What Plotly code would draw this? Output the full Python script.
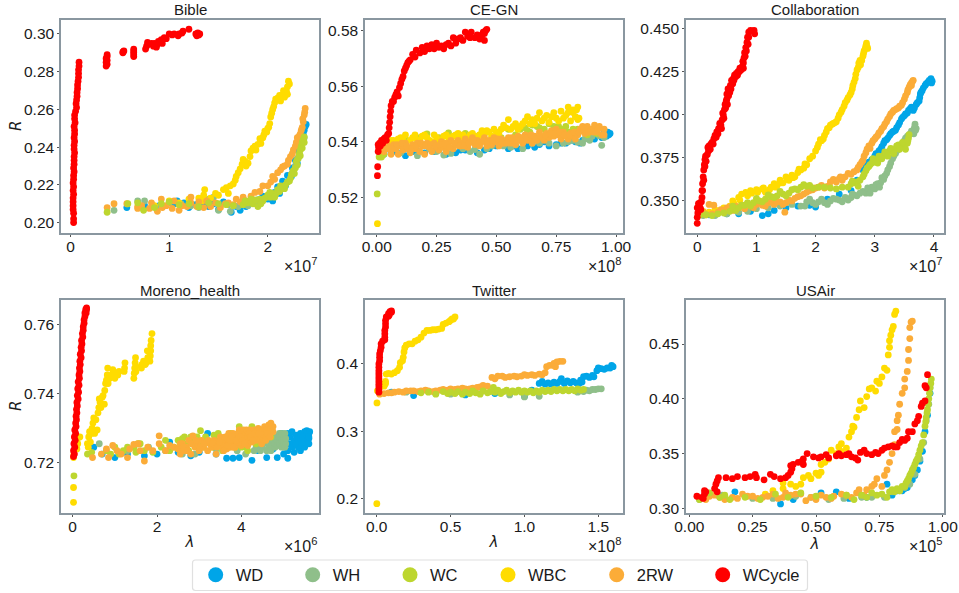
import plotly.graph_objects as go

SERIES = ["WD", "WH", "WC", "WBC", "2RW", "WCycle"]
COLORS = {"WD": "#00A5E8", "WH": "#8FBF8A", "WC": "#BDD62F", "WBC": "#FFDC00", "2RW": "#FBAC38", "WCycle": "#FF0000"}

# ---------- Bible (x in 1e7) ----------
BIBLE_WD = [(.57,.208),(.75,.209),(.9,.209),(1.05,.21),(1.08,.2115),(1.15,.2105),(1.2,.208),(1.27,.2095),(1.3,.2085),(1.35,.2105),(1.4,.2085),(1.45,.21),(1.5,.207),(1.55,.211),(1.63,.2055),(1.68,.2085),(1.72,.2065),(1.78,.2085),(1.85,.2115),(1.9,.212),(1.95,.214),(2.0,.2125),(2.03,.213),(2.07,.216),(2.1,.219),(2.15,.222),(2.2,.225),(2.25,.229),(2.28,.233),(2.31,.238),(2.33,.242),(2.35,.246),(2.37,.249),(2.38,.251),(2.39,.252),(2.37,.2505),(2.36,.247),(2.05,.2115),(2.12,.2155),(2.18,.2195),(2.24,.2245),(2.3,.2315)]
BIBLE_WH = [(.44,.2065),(.68,.2115),(.75,.2115),(.9,.2085),(1.0,.2105),(1.12,.21),(1.22,.209),(1.3,.208),(1.4,.2125),(1.45,.2135),(1.5,.2065),(1.6,.2095),(1.7,.2085),(1.62,.206),(1.8,.209),(1.9,.2105),(2.0,.2135),(2.05,.2145),(2.1,.2165),(2.15,.218),(2.2,.2215),(2.25,.2265),(2.28,.23),(2.3,.234),(2.33,.239),(2.35,.2435),(2.37,.245)]
BIBLE_WC = [(.37,.2055),(.58,.21),(.68,.2105),(.74,.2065),(.85,.208),(.92,.21),(1.0,.211),(1.1,.2095),(1.2,.21),(1.3,.2085),(1.4,.2105),(1.5,.21),(1.58,.2095),(1.65,.209),(1.75,.2095),(1.8,.2105),(1.85,.21),(1.9,.2085),(1.92,.2125),(1.95,.2115),(1.97,.213),(2.0,.2145),(2.03,.2135),(2.05,.2155),(2.08,.215),(2.1,.2175),(2.12,.2165),(2.15,.2185),(2.17,.218),(2.2,.2215),(2.22,.222),(2.24,.2255),(2.26,.2275),(2.28,.229),(2.29,.2325),(2.31,.234),(2.32,.2365),(2.33,.2385),(2.34,.2405),(2.35,.2425),(2.36,.244),(2.37,.2455),(1.77,.2115),(1.83,.2125),(1.88,.212),(1.93,.21),(2.02,.216),(2.07,.2135),(2.13,.2195),(2.18,.22),(2.23,.2235),(2.27,.226),(2.3,.2305),(2.33,.2355),(2.35,.2395),(2.37,.2425)]
BIBLE_WBC = [(.85,.209),(1.0,.2115),(1.1,.2105),(1.2,.2125),(1.3,.213),(1.33,.2115),(1.35,.2145),(1.36,.2175),(1.42,.213),(1.47,.2155),(1.5,.2145),(1.55,.2175),(1.58,.2185),(1.6,.2155),(1.62,.2195),(1.65,.2205),(1.67,.2225),(1.68,.2245),(1.7,.2265),(1.72,.2285),(1.74,.231),(1.77,.2325),(1.8,.2315),(1.82,.235),(1.83,.238),(1.87,.2405),(1.9,.2415),(1.92,.2445),(1.95,.245),(1.97,.2485),(2.0,.25),(2.02,.2525),(2.03,.256),(2.05,.26),(2.07,.2635),(2.1,.266),(2.13,.2645),(2.15,.268),(2.17,.2665),(2.2,.272),(2.21,.275),(2.22,.2735),(2.2,.268),(1.75,.2335),(1.78,.23),(1.85,.2395),(1.88,.2385),(1.93,.242),(1.96,.2465),(1.99,.248),(2.01,.2505),(2.04,.258),(2.06,.2615),(2.08,.2655),(2.12,.2675),(2.16,.27),(2.19,.2695)]
BIBLE_2RW = [(.37,.208),(.44,.21),(.57,.21),(.68,.2075),(.68,.2085),(.72,.209),(.8,.2075),(.82,.2105),(.88,.206),(.93,.208),(.92,.2125),(.97,.209),(1.03,.2075),(1.05,.2115),(1.1,.2065),(1.13,.209),(1.18,.2085),(1.22,.2105),(1.22,.2135),(1.28,.2085),(1.3,.211),(1.35,.208),(1.38,.2115),(1.42,.2085),(1.47,.2105),(1.52,.208),(1.57,.21),(1.6,.2105),(1.65,.2095),(1.68,.2125),(1.72,.211),(1.75,.2135),(1.78,.2115),(1.83,.214),(1.87,.216),(1.92,.2165),(1.95,.2195),(2.0,.2195),(2.03,.2215),(2.07,.223),(2.1,.2265),(2.13,.228),(2.17,.23),(2.2,.231),(2.23,.235),(2.26,.2385),(2.29,.2425),(2.3,.245),(2.33,.247),(2.35,.2505),(2.36,.2535),(2.37,.257),(2.38,.2605),(2.05,.2245),(2.15,.2295),(2.21,.233),(2.25,.2365),(2.28,.2405),(2.32,.246),(2.34,.249),(2.355,.255),(2.375,.2585)]
BIBLE_WCYCLE = [(.03,.2),(.03,.202),(.03,.205),(.025,.207),(.025,.209),(.025,.211),(.025,.213),(.03,.215),(.025,.217),(.03,.219),(.025,.221),(.03,.223),(.03,.225),(.035,.227),(.03,.229),(.035,.231),(.035,.233),(.035,.235),(.04,.237),(.035,.239),(.035,.241),(.04,.243),(.035,.245),(.04,.247),(.04,.249),(.035,.251),(.045,.253),(.04,.255),(.04,.257),(.05,.259),(.06,.261),(.055,.263),(.06,.265),(.065,.267),(.065,.269),(.07,.271),(.07,.273),(.075,.275),(.08,.277),(.08,.279),(.08,.281),(.085,.283),(.085,.285),(.36,.283),(.37,.284),(.36,.285),(.37,.286),(.36,.287),(.37,.288),(.37,.289),(.53,.29),(.54,.291),(.53,.2905),(.64,.288),(.64,.289),(.64,.29),(.64,.291),(.64,.292),(.76,.292),(.77,.2935),(.78,.2955),(.79,.2945),(.82,.295),(.84,.2935),(.85,.295),(.87,.293),(.88,.2945),(.89,.296),(.9,.2955),(.92,.297),(.93,.295),(.95,.298),(.97,.2975),(1.0,.3),(1.03,.2995),(1.05,.3),(1.09,.299),(1.1,.3),(1.13,.3005),(1.14,.3015),(1.2,.3025),(1.27,.3),(1.28,.299),(1.29,.3005),(1.3,.2995),(1.31,.3)]

# ---------- CE-GN (x in 1e8) ----------
CE_WD = [(.03,.5355),(.06,.536),(.12,.535),(.15,.5365),(.2,.536),(.24,.5365),(.29,.5355),(.33,.536),(.37,.537),(.42,.536),(.45,.537),(.5,.5385),(.55,.5375),(.59,.5375),(.63,.5385),(.66,.538),(.7,.54),(.75,.539),(.79,.5395),(.83,.54),(.86,.5405),(.89,.5415),(.92,.5425),(.94,.5415),(.95,.543),(.96,.542),(.965,.5435),(.97,.5425),(.975,.543),(.96,.5435),(.08,.5365),(.17,.5365),(.26,.537),(.35,.537),(.47,.5375),(.57,.5385),(.68,.539),(.72,.5385),(.77,.5395),(.81,.5405),(.85,.5395),(.91,.541)]
CE_WH = [(.02,.535),(.1,.536),(.17,.535),(.22,.5375),(.28,.5352),(.31,.5358),(.36,.5375),(.41,.5372),(.43,.5355),(.48,.5385),(.53,.5385),(.58,.5388),(.61,.5375),(.65,.5395),(.72,.5395),(.75,.5385),(.8,.54),(.84,.5398),(.87,.541),(.9,.542),(.94,.5387),(.93,.5422),(.95,.5415),(.25,.5365),(.39,.5365),(.46,.5375),(.56,.538),(.68,.5395),(.78,.5395),(.82,.5405),(.86,.5395),(.89,.5405)]
CE_WC = [(.002,.5212),(.01,.5345),(.02,.5345),(.03,.5355),(.07,.54),(.12,.541),(.18,.5415),(.21,.5428),(.26,.5415),(.3,.5432),(.35,.542),(.37,.543),(.43,.5425),(.46,.5435),(.52,.5415),(.55,.5445),(.58,.5425),(.62,.545),(.64,.5435),(.67,.5455),(.7,.5445),(.74,.5455),(.77,.5445),(.8,.5435),(.84,.5445),(.88,.5425),(.92,.543),(.6,.5445),(.63,.544),(.65,.546),(.68,.545),(.72,.5465),(.76,.5455),(.79,.5455),(.82,.5445),(.86,.544)]
CE_WBC = [(.003,.5105),(.03,.54),(.05,.5395),(.07,.5405),(.09,.541),(.11,.5405),(.12,.5425),(.15,.5415),(.17,.5405),(.19,.542),(.21,.5415),(.23,.54),(.25,.5415),(.27,.5405),(.29,.5425),(.31,.541),(.33,.5425),(.35,.5415),(.37,.5405),(.39,.5425),(.41,.542),(.43,.5425),(.45,.543),(.46,.544),(.48,.542),(.5,.5435),(.52,.5445),(.54,.545),(.55,.548),(.57,.5455),(.59,.5445),(.61,.5465),(.63,.549),(.65,.548),(.66,.5465),(.68,.5505),(.69,.5475),(.7,.5485),(.72,.547),(.73,.549),(.75,.5485),(.76,.5475),(.77,.551),(.79,.5495),(.8,.5525),(.81,.5475),(.82,.5505),(.83,.549),(.84,.5525),(.84,.548),(.845,.5485),(.835,.5515),(.04,.541),(.06,.5405),(.08,.5395),(.1,.5415),(.14,.5405),(.16,.5425),(.18,.5405),(.2,.5425),(.22,.5405),(.24,.5425),(.26,.5405),(.28,.542),(.3,.5415),(.32,.542),(.34,.543),(.36,.5425),(.38,.5415),(.4,.543),(.42,.5415),(.44,.544),(.47,.5435),(.49,.5445),(.51,.543),(.53,.546),(.56,.5445),(.58,.5465),(.6,.5455),(.62,.5475),(.64,.5465),(.67,.5485),(.71,.5495),(.74,.5505),(.78,.5485),(.8,.5505),(.82,.5515)]
CE_2RW = [(.02,.5385),(.03,.5365),(.04,.5395),(.05,.5375),(.06,.5355),(.07,.539),(.08,.5375),(.09,.5355),(.1,.5385),(.11,.537),(.12,.5395),(.13,.5375),(.14,.536),(.15,.539),(.16,.5375),(.17,.5395),(.18,.5365),(.19,.5385),(.2,.5355),(.21,.5395),(.22,.538),(.23,.5365),(.24,.5395),(.25,.538),(.26,.537),(.27,.54),(.28,.538),(.29,.5365),(.3,.5395),(.31,.5405),(.32,.5375),(.33,.539),(.34,.5405),(.35,.5385),(.36,.5395),(.37,.541),(.38,.538),(.39,.54),(.4,.5415),(.41,.539),(.42,.5405),(.43,.5385),(.44,.54),(.45,.5415),(.46,.5385),(.47,.5405),(.48,.539),(.49,.5415),(.5,.54),(.51,.5385),(.52,.541),(.53,.5395),(.54,.5405),(.55,.5415),(.56,.5395),(.57,.5405),(.58,.539),(.59,.542),(.6,.5405),(.61,.5395),(.62,.5425),(.63,.5405),(.64,.541),(.65,.5395),(.66,.542),(.67,.5405),(.68,.5435),(.69,.5415),(.7,.5405),(.71,.543),(.72,.5415),(.73,.544),(.74,.542),(.75,.5445),(.76,.5425),(.77,.541),(.78,.5435),(.79,.542),(.8,.541),(.81,.543),(.82,.542),(.83,.541),(.84,.5425),(.85,.5445),(.86,.5455),(.87,.543),(.88,.5455),(.89,.5435),(.9,.5445),(.91,.546),(.92,.5435),(.93,.5455),(.94,.5425),(.95,.5445),(.95,.5425),(.025,.5375),(.045,.5385),(.065,.5375),(.085,.539),(.105,.5395),(.125,.5385),(.145,.5375),(.165,.5385),(.185,.5395),(.205,.5385),(.225,.539),(.245,.5385),(.265,.539),(.285,.5395),(.305,.538),(.325,.5395),(.345,.5385),(.365,.5385),(.385,.5395),(.405,.5405),(.425,.5395),(.445,.5405),(.465,.54),(.485,.5405),(.505,.541),(.525,.5395),(.545,.5395),(.565,.5415),(.585,.5405),(.605,.5415),(.625,.5415),(.645,.5425),(.665,.541),(.685,.542),(.705,.5425),(.725,.543),(.745,.543),(.765,.5435),(.785,.5425),(.805,.5425),(.825,.5435),(.845,.5435),(.865,.5445),(.885,.5435),(.905,.5435),(.925,.5445)]
CE_WCYCLE = [(.003,.5278),(.004,.531),(.006,.5365),(.006,.539),(.008,.538),(.012,.5395),(.015,.5385),(.02,.5405),(.025,.5395),(.03,.541),(.035,.5415),(.04,.5405),(.045,.5425),(.05,.543),(.052,.545),(.054,.547),(.056,.549),(.058,.551),(.06,.553),(.065,.5545),(.07,.5545),(.075,.556),(.08,.557),(.085,.558),(.09,.5565),(.095,.5595),(.1,.561),(.105,.5625),(.11,.5635),(.115,.5655),(.12,.5665),(.125,.5675),(.13,.5685),(.135,.569),(.14,.5695),(.15,.5715),(.16,.5705),(.165,.573),(.18,.572),(.19,.574),(.2,.5725),(.21,.5745),(.22,.5735),(.23,.575),(.24,.5735),(.25,.5755),(.26,.574),(.27,.5745),(.28,.5735),(.29,.575),(.3,.5755),(.31,.5745),(.32,.5775),(.33,.5755),(.34,.577),(.35,.5775),(.36,.5765),(.37,.5795),(.38,.578),(.39,.5775),(.395,.5795),(.41,.5775),(.42,.5785),(.43,.577),(.44,.5785),(.45,.5765),(.445,.5795),(.455,.58),(.46,.5805),(.45,.579)]

# ---------- Collaboration (x in 1e7) ----------
CO_WD = [(.2,.342),(.5,.3425),(.7,.3425),(.9,.344),(1.1,.3415),(1.2,.3425),(1.3,.3445),(1.5,.346),(1.7,.347),(1.9,.3475),(2.0,.3465),(2.2,.351),(2.4,.354),(2.6,.356),(2.7,.362),(2.8,.368),(2.85,.371),(2.9,.3725),(3.0,.376),(3.05,.3775),(3.1,.38),(3.15,.3835),(3.2,.3855),(3.25,.388),(3.3,.39),(3.35,.391),(3.4,.394),(3.45,.3975),(3.5,.3995),(3.55,.401),(3.6,.4035),(3.65,.4025),(3.7,.406),(3.75,.408),(3.77,.412),(3.8,.414),(3.85,.417),(3.9,.419),(3.95,.421),(3.97,.4195),(2.95,.374),(3.02,.3775),(3.07,.379),(3.12,.3815),(3.17,.385),(3.22,.3865),(3.27,.389),(3.32,.3905),(3.37,.3925),(3.42,.3955),(3.47,.3985),(3.52,.4005),(3.57,.4025),(3.62,.4045),(3.67,.404),(3.72,.407),(3.76,.41),(3.78,.413),(3.82,.4155),(3.87,.418),(3.92,.42),(3.96,.4185)]
CO_WH = [(.1,.3415),(.3,.3415),(.5,.3425),(.7,.3435),(.85,.344),(1.0,.3455),(1.2,.346),(1.4,.347),(1.6,.348),(1.75,.347),(1.85,.3495),(1.95,.349),(2.05,.3495),(2.15,.349),(2.25,.35),(2.35,.351),(2.45,.3495),(2.5,.352),(2.6,.352),(2.65,.3535),(2.7,.353),(2.8,.3555),(2.85,.3545),(2.9,.356),(2.95,.358),(3.0,.357),(3.05,.36),(3.1,.3605),(3.15,.3625),(3.2,.366),(3.25,.37),(3.3,.3745),(3.35,.3775),(3.4,.38),(3.45,.382),(3.5,.385),(3.55,.3875),(3.6,.389),(3.65,.391),(3.68,.3945),(3.7,.392),(1.82,.347),(1.9,.351),(2.0,.348),(2.1,.351),(2.2,.348),(2.3,.3515),(2.4,.3505),(2.55,.3505),(2.62,.354),(2.75,.3545),(2.88,.3575),(2.92,.3545),(3.02,.3595),(3.08,.358),(3.12,.3635),(3.17,.3645),(3.22,.368),(3.27,.372),(3.32,.376),(3.37,.379),(3.42,.381),(3.47,.3835),(3.52,.3865),(3.57,.388),(3.62,.3905),(3.67,.3925),(3.66,.389),(3.69,.391)]
CO_WC = [(.05,.342),(.15,.342),(.25,.3415),(.35,.3425),(.45,.343),(.55,.344),(.65,.3445),(.75,.3475),(.85,.349),(.95,.349),(1.05,.35),(1.15,.351),(1.25,.3525),(1.35,.353),(1.45,.354),(1.55,.3545),(1.65,.357),(1.75,.358),(1.85,.3585),(1.95,.3575),(2.05,.358),(2.15,.358),(2.25,.3575),(2.35,.357),(2.45,.358),(2.55,.358),(2.6,.36),(2.65,.3605),(2.7,.361),(2.75,.362),(2.8,.364),(2.85,.3675),(2.9,.37),(2.95,.372),(3.0,.3735),(3.05,.372),(3.1,.375),(3.15,.3765),(3.2,.3775),(3.25,.379),(3.3,.3795),(3.35,.38),(3.4,.3825),(3.45,.382),(3.5,.3815),(3.55,.3835),(3.57,.3865),(3.58,.3885),(2.62,.3615),(2.72,.3585),(2.82,.3655),(2.87,.369),(2.92,.371),(2.97,.3745),(3.02,.3725),(3.07,.376),(3.12,.3745),(3.17,.3785),(3.22,.376),(3.27,.3805),(3.32,.3775),(3.37,.382),(3.42,.38),(3.47,.384),(3.52,.38),(3.56,.385),(.6,.347),(.7,.346),(.8,.3475),(.9,.347),(1.0,.3515),(1.1,.3495),(1.2,.3535),(1.3,.352),(1.4,.3555),(1.5,.353),(1.6,.3565),(1.7,.3565),(1.8,.3595),(1.9,.359)]
CO_WBC = [(.1,.344),(.2,.3435),(.3,.345),(.35,.343),(.45,.346),(.55,.347),(.6,.35),(.7,.352),(.75,.354),(.85,.353),(.9,.356),(1.0,.3565),(1.1,.357),(1.15,.355),(1.25,.358),(1.3,.36),(1.35,.359),(1.4,.362),(1.45,.3605),(1.5,.364),(1.55,.362),(1.6,.365),(1.65,.364),(1.7,.3665),(1.75,.368),(1.8,.369),(1.85,.371),(1.9,.3745),(1.95,.376),(2.0,.379),(2.05,.383),(2.1,.385),(2.15,.388),(2.2,.392),(2.25,.394),(2.3,.395),(2.35,.396),(2.4,.4),(2.45,.403),(2.5,.407),(2.55,.41),(2.6,.413),(2.63,.417),(2.67,.421),(2.7,.426),(2.73,.43),(2.76,.429),(2.8,.434),(2.82,.437),(2.85,.44),(2.87,.4395),(2.03,.381),(2.08,.3855),(2.13,.386),(2.18,.39),(2.23,.3925),(2.28,.3945),(2.33,.3955),(2.38,.398),(2.43,.4015),(2.48,.405),(2.53,.4085),(2.58,.4115),(2.62,.415),(2.65,.419),(2.68,.4235),(2.72,.4275),(2.75,.4315),(2.78,.4315),(2.81,.4355),(2.84,.4385),(2.86,.4415),(2.88,.4385),(1.82,.3715),(1.72,.3685),(1.62,.3635),(1.52,.3625),(1.42,.3605),(1.32,.358),(1.22,.3565),(1.12,.3575),(1.02,.355),(.92,.3545),(.82,.355),(.72,.3505),(.62,.3485)]
CO_2RW = [(.1,.3435),(.15,.342),(.2,.348),(.28,.3475),(.25,.3425),(.35,.3435),(.45,.3445),(.5,.346),(.55,.3465),(.6,.3445),(.7,.346),(.8,.3455),(.9,.347),(1.0,.348),(1.1,.3475),(1.2,.349),(1.3,.348),(1.4,.3495),(1.48,.3435),(1.5,.349),(1.6,.35),(1.7,.3525),(1.8,.354),(1.9,.356),(2.0,.3575),(2.1,.359),(2.2,.3585),(2.25,.361),(2.3,.3625),(2.4,.363),(2.45,.362),(2.5,.364),(2.55,.366),(2.6,.3655),(2.65,.367),(2.7,.368),(2.75,.371),(2.8,.3735),(2.85,.378),(2.9,.382),(2.95,.3835),(3.0,.386),(3.05,.388),(3.1,.3905),(3.15,.393),(3.2,.396),(3.25,.399),(3.3,.4015),(3.35,.403),(3.4,.404),(3.45,.4055),(3.5,.409),(3.55,.413),(3.58,.416),(3.62,.4185),(3.65,.42),(3.62,.417),(2.72,.3695),(2.78,.3725),(2.82,.376),(2.87,.38),(2.92,.3805),(2.97,.385),(3.02,.387),(3.07,.3895),(3.12,.392),(3.17,.3945),(3.22,.3975),(3.27,.4005),(3.32,.4025),(3.37,.4035),(3.42,.405),(3.47,.407),(3.52,.411),(3.56,.4145),(3.6,.4175),(3.64,.4195),(.4,.345),(.65,.347),(.75,.3475),(.85,.3485),(.95,.346),(1.05,.349),(1.15,.347),(1.25,.35),(1.35,.3495),(1.45,.348),(1.55,.3505),(1.65,.3515),(1.75,.353),(1.85,.355),(1.95,.3565),(2.05,.358),(2.15,.3575),(2.35,.361),(2.42,.364)]
CO_WCYCLE = [(0,.337),(0,.3405),(.01,.343),(0,.346),(.02,.3485),(.05,.349),(.05,.346),(.07,.3495),(.06,.345),(.08,.352),(.08,.356),(.09,.36),(.1,.364),(.11,.368),(.12,.371),(.13,.374),(.14,.376),(.17,.377),(.19,.379),(.2,.382),(.23,.383),(.25,.384),(.28,.386),(.3,.388),(.33,.39),(.36,.392),(.4,.394),(.42,.397),(.44,.4),(.46,.403),(.47,.406),(.5,.409),(.5,.412),(.52,.415),(.56,.417),(.58,.42),(.61,.421),(.63,.423),(.66,.424),(.69,.425),(.72,.427),(.76,.428),(.78,.43),(.79,.433),(.8,.436),(.82,.439),(.84,.442),(.85,.445),(.87,.448),(.9,.449),(.93,.4485),(.97,.447),(.96,.449),(.09,.356),(.11,.362),(.13,.37),(.15,.373),(.18,.381),(.22,.38),(.27,.383),(.32,.387),(.35,.389),(.38,.395),(.41,.392),(.43,.401),(.45,.398),(.48,.404),(.49,.408),(.51,.406),(.53,.411),(.55,.413),(.57,.415),(.6,.418),(.62,.42),(.65,.422),(.68,.423),(.71,.425),(.74,.426),(.77,.431),(.78,.427),(.81,.434),(.83,.437),(.86,.441),(.87,.445)]

# ---------- Moreno_health (x in 1e6) ----------
MO_WD = [(.5,.7245),(.7,.7225),(1.0,.7215),(1.3,.7225),(1.7,.722),(2.0,.7225),(2.3,.726),(2.5,.723),(2.8,.722),(3.0,.723),(3.2,.7285),(3.4,.7225),(3.65,.7213),(3.8,.7213),(3.95,.7215),(4.25,.7207),(4.4,.7235),(4.6,.7215),(4.75,.724),(4.85,.7215),(5.0,.7225),(5.1,.7213),(4.9,.7265),(4.95,.7285),(5.0,.7245),(5.05,.727),(5.1,.7235),(5.1,.7285),(5.15,.7255),(5.15,.7275),(5.2,.7245),(5.2,.729),(5.25,.7265),(5.25,.723),(5.3,.7255),(5.3,.728),(5.35,.7245),(5.35,.727),(5.4,.726),(5.4,.7285),(5.4,.7235),(5.45,.7275),(5.45,.725),(5.5,.7265),(5.5,.729),(5.5,.7245),(5.55,.7255),(5.55,.728),(5.55,.7293),(5.6,.727),(5.6,.7285),(5.6,.7255),(5.62,.729),(5.6,.7275)]
MO_WH = [(.63,.7255),(1.3,.7235),(1.8,.7245),(2.2,.7235),(2.6,.7225),(2.9,.7225),(3.4,.724),(3.9,.7235),(4.1,.7225),(4.3,.7235),(4.35,.7245),(4.4,.7255),(4.45,.7235),(4.5,.7245),(4.55,.7258),(4.6,.7235),(4.65,.7265),(4.65,.7245),(4.7,.7255),(4.7,.7235),(4.75,.7275),(4.75,.7265),(4.8,.7245),(4.8,.7255),(4.85,.7275),(4.85,.7265),(4.85,.725),(4.9,.7285),(4.9,.7255),(4.9,.7275),(4.95,.7265),(4.95,.7245),(4.95,.7285),(5.0,.7275),(5.0,.7255),(5.0,.7265),(5.03,.7245),(5.03,.7285),(5.05,.7255),(5.05,.727)]
MO_WC = [(.03,.7162),(.35,.7225),(.45,.723),(.8,.7235),(1.0,.7245),(1.1,.7225),(1.3,.7245),(1.5,.723),(1.55,.7255),(1.7,.7235),(1.9,.723),(2.1,.7245),(2.2,.7265),(2.3,.7235),(2.5,.7265),(2.55,.7245),(2.65,.7275),(2.75,.7235),(2.85,.7265),(2.95,.7275),(3.03,.7293),(3.1,.7245),(3.2,.7265),(3.3,.7245),(3.4,.7265),(3.45,.7285),(3.55,.7235),(3.65,.7265),(3.75,.7285),(3.85,.7245),(3.95,.7305),(4.05,.726),(4.1,.7245),(4.2,.728),(4.25,.7305),(4.35,.7255),(4.45,.7295),(4.55,.7265),(4.65,.7305),(4.7,.7275),(.9,.7225),(1.2,.7235),(1.45,.7245),(1.6,.7255),(2.4,.7245),(2.6,.727),(2.7,.7255),(2.8,.7275),(3.0,.7255),(3.15,.7275),(3.35,.728),(3.5,.7255),(3.7,.7245),(4.0,.7245),(4.15,.7235)]
MO_WBC = [(.02,.7085),(.02,.7128),(.02,.7215),(.03,.7225),(.1,.7265),(.12,.7255),(.17,.7275),(.1,.724),(.35,.7255),(.37,.7245),(.38,.7275),(.4,.729),(.42,.726),(.44,.7285),(.46,.73),(.48,.7315),(.5,.733),(.52,.7285),(.55,.7325),(.58,.7295),(.6,.7345),(.62,.736),(.63,.7385),(.65,.7375),(.67,.736),(.7,.739),(.72,.7395),(.75,.737),(.76,.741),(.78,.743),(.8,.744),(.82,.7455),(.84,.743),(.83,.7475),(.88,.7445),(.92,.7455),(.95,.747),(1.0,.7445),(1.03,.746),(1.07,.7455),(1.1,.7465),(1.22,.7465),(1.23,.7475),(1.24,.749),(1.45,.7445),(1.46,.746),(1.47,.7475),(1.48,.749),(1.49,.7505),(1.5,.7465),(1.5,.748),(1.63,.7475),(1.64,.7485),(1.68,.7495),(1.72,.7485),(1.74,.749),(1.76,.7495),(1.78,.7505),(1.77,.7525),(1.8,.7505),(1.84,.751),(1.85,.7525),(1.85,.754),(1.86,.7555),(1.88,.7575),(1.83,.7495)]
MO_2RW = [(.47,.7215),(.68,.7225),(.8,.724),(.85,.7215),(.95,.725),(1.05,.7235),(1.15,.7225),(1.3,.7215),(1.35,.724),(1.45,.7253),(1.55,.7255),(1.6,.7235),(1.7,.7205),(1.78,.7245),(1.9,.7235),(2.05,.7278),(2.05,.7255),(2.2,.7235),(2.3,.725),(2.4,.7245),(2.5,.724),(2.55,.7225),(2.6,.7255),(2.65,.7235),(2.7,.7245),(2.75,.7265),(2.8,.7225),(2.85,.7278),(2.9,.7245),(2.95,.7255),(3.0,.7235),(3.05,.7265),(3.1,.7245),(3.2,.7235),(3.25,.7255),(3.3,.7245),(3.35,.7265),(3.4,.7225),(3.45,.725),(3.5,.7275),(3.55,.7245),(3.55,.726),(3.6,.7265),(3.6,.725),(3.65,.7275),(3.65,.724),(3.7,.726),(3.7,.7285),(3.75,.7245),(3.75,.727),(3.8,.7255),(3.8,.7285),(3.85,.7265),(3.85,.7245),(3.9,.7275),(3.9,.7255),(3.95,.7295),(3.95,.7265),(4.0,.7285),(4.0,.725),(4.05,.7275),(4.05,.7295),(4.1,.7265),(4.1,.7285),(4.15,.725),(4.15,.7275),(4.2,.7295),(4.2,.7265),(4.25,.7285),(4.25,.726),(4.3,.7275),(4.3,.7295),(4.35,.7265),(4.35,.7285),(4.4,.7275),(4.4,.73),(4.45,.7265),(4.45,.7285),(4.5,.7275),(4.5,.7295),(4.55,.7285),(4.55,.7305),(4.6,.7275),(4.6,.7295),(4.65,.731),(4.65,.7285),(4.7,.73),(4.7,.7315),(4.75,.729),(4.75,.7305),(2.55,.7255),(2.62,.7245),(2.72,.7235),(2.82,.7255),(2.92,.7265),(3.02,.7245),(3.12,.7255),(3.22,.7265),(3.32,.7255),(3.42,.7245),(3.48,.726),(3.58,.7235),(3.62,.7275),(3.68,.725),(3.72,.7265),(3.78,.7275),(3.82,.7245),(3.88,.7265),(3.92,.7285),(3.98,.7275),(4.02,.7265),(4.08,.7255),(4.12,.7295),(4.18,.7285),(4.22,.7275),(4.28,.7265),(4.32,.7285),(4.38,.7295),(4.42,.7285),(4.48,.7255),(4.52,.7265),(4.58,.7265),(4.62,.7285),(4.68,.7275)]
MO_WCYCLE = [(.02,.7218),(.04,.7225),(.02,.7235),(.05,.7245),(.03,.7255),(.06,.7265),(.04,.7275),(.07,.7285),(.05,.7295),(.08,.7305),(.07,.7315),(.09,.7325),(.08,.7335),(.10,.7345),(.09,.7355),(.11,.7365),(.10,.7375),(.13,.7385),(.11,.7395),(.14,.7405),(.12,.7415),(.15,.7425),(.13,.7435),(.16,.7445),(.15,.7455),(.17,.7465),(.16,.7475),(.18,.7485),(.17,.7495),(.20,.7505),(.18,.7515),(.21,.7525),(.20,.7535),(.22,.7545),(.21,.7555),(.24,.7565),(.23,.7575),(.25,.7585),(.25,.7595),(.27,.7605),(.27,.7615),(.29,.7625),(.29,.7635),(.31,.7645),(.33,.7645),(.32,.7635),(.33,.765)]

# ---------- Twitter (x in 1e8) ----------
TW_WD = [(.1,.358),(.25,.353),(.4,.356),(.6,.354),(.8,.356),(1.0,.352),(1.05,.361),(1.1,.371),(1.12,.374),(1.14,.37),(1.16,.372),(1.18,.37),(1.2,.373),(1.22,.371),(1.24,.374),(1.25,.378),(1.27,.371),(1.29,.375),(1.31,.372),(1.33,.374),(1.35,.372),(1.37,.371),(1.39,.373),(1.38,.376),(1.4,.381),(1.42,.382),(1.44,.38),(1.46,.383),(1.47,.381),(1.49,.39),(1.5,.394),(1.52,.393),(1.54,.392),(1.56,.394),(1.58,.394),(1.59,.398),(1.6,.396)]
TW_WH = [(.2,.358),(.5,.355),(.7,.356),(.9,.354),(1.0,.351),(1.1,.352),(1.36,.358),(1.38,.36),(1.4,.359),(1.42,.361),(1.44,.36),(1.46,.362),(1.48,.362),(1.5,.363),(1.52,.363)]
TW_WC = [(.3,.357),(.35,.358),(.4,.355),(.45,.359),(.48,.356),(.5,.358),(.53,.356),(.55,.359),(.58,.355),(.6,.358),(.63,.356),(.65,.36),(.67,.357),(.7,.355),(.72,.36),(.75,.357),(.77,.359),(.79,.365),(.8,.358),(.82,.361),(.84,.356),(.86,.359),(.88,.361),(.9,.357),(.92,.36),(.94,.358),(.96,.361),(.98,.358),(1.0,.36),(1.02,.358),(1.04,.36),(1.06,.357),(1.08,.36),(1.1,.358),(1.12,.361),(1.14,.359),(1.16,.361),(1.18,.359),(1.2,.362),(1.22,.36),(1.24,.362),(1.26,.36),(1.28,.362),(1.3,.36),(1.32,.362),(1.34,.36),(1.36,.363),(1.38,.361),(1.4,.362)]
TW_WBC = [(.001,.192),(.002,.342),(.005,.36),(.05,.367),(.055,.37),(.06,.374),(.06,.371),(.065,.385),(.08,.386),(.1,.385),(.12,.387),(.14,.39),(.155,.395),(.16,.402),(.175,.405),(.18,.41),(.185,.418),(.19,.424),(.2,.428),(.22,.43),(.24,.43),(.26,.434),(.28,.436),(.3,.44),(.32,.446),(.34,.45),(.36,.45),(.38,.451),(.4,.451),(.42,.452),(.44,.453),(.45,.459),(.47,.461),(.49,.463),(.5,.465),(.51,.467),(.52,.467),(.53,.47)]
TW_2RW = [(.02,.355),(.05,.356),(.08,.357),(.1,.357),(.12,.358),(.15,.359),(.18,.358),(.2,.36),(.23,.36),(.25,.36),(.28,.359),(.3,.36),(.33,.361),(.35,.36),(.38,.359),(.4,.36),(.43,.361),(.45,.362),(.48,.361),(.5,.363),(.53,.362),(.55,.363),(.58,.364),(.6,.363),(.63,.363),(.65,.364),(.68,.365),(.7,.366),(.72,.368),(.75,.367),(.78,.38),(.8,.378),(.82,.382),(.85,.382),(.87,.38),(.9,.381),(.93,.382),(.95,.381),(.98,.382),(1.0,.384),(1.02,.383),(1.05,.384),(1.07,.383),(1.1,.385),(1.12,.384),(1.14,.387),(1.15,.396),(1.17,.398),(1.19,.398),(1.2,.401),(1.22,.403),(1.24,.404),(1.26,.404),(1.21,.396)]
TW_WCYCLE = [(.015,.358),(.015,.362),(.015,.366),(.015,.37),(.015,.374),(.015,.378),(.015,.382),(.015,.386),(.015,.39),(.015,.395),(.015,.4),(.02,.405),(.02,.41),(.02,.415),(.025,.42),(.03,.425),(.03,.43),(.04,.434),(.055,.436),(.055,.44),(.055,.445),(.055,.45),(.06,.455),(.06,.46),(.06,.465),(.065,.47),(.08,.471),(.08,.475),(.09,.478),(.1,.479),(.1,.477),(.085,.473)]

# ---------- USAir (x in 1e5) ----------
US_WD = [(.18,.315),(.36,.304),(.41,.308),(.52,.314),(.58,.315),(.63,.309),(.7,.31),(.78,.322),(.8,.312),(.82,.316),(.84,.316),(.85,.318),(.86,.319),(.87,.323),(.88,.326),(.89,.33),(.9,.335),(.91,.343),(.92,.352),(.93,.37),(.94,.385),(.95,.405)]
US_WH = [(.04,.308),(.13,.312),(.25,.309),(.33,.309),(.42,.311),(.48,.31),(.55,.308),(.61,.309),(.68,.31),(.72,.31),(.77,.31),(.8,.315),(.83,.316),(.85,.319),(.87,.322),(.89,.331),(.91,.345),(.925,.36),(.935,.38),(.945,.395),(.95,.41)]
US_WC = [(.04,.308),(.08,.314),(.12,.31),(.14,.312),(.16,.308),(.22,.31),(.28,.308),(.34,.313),(.39,.31),(.44,.314),(.5,.311),(.56,.31),(.62,.312),(.65,.308),(.68,.312),(.7,.31),(.72,.314),(.74,.312),(.76,.313),(.78,.31),(.79,.315),(.8,.317),(.81,.315),(.82,.318),(.83,.316),(.84,.32),(.85,.32),(.855,.323),(.86,.325),(.865,.327),(.87,.33),(.875,.332),(.88,.335),(.885,.337),(.89,.34),(.895,.343),(.9,.345),(.905,.349),(.91,.353),(.915,.357),(.92,.36),(.925,.367),(.93,.375),(.933,.379),(.935,.383),(.938,.387),(.94,.39),(.943,.395),(.945,.4),(.948,.405),(.95,.41),(.953,.414),(.955,.418)]
US_WBC = [(.3,.313),(.33,.316),(.37,.323),(.37,.318),(.4,.322),(.42,.32),(.44,.322),(.45,.328),(.47,.33),(.48,.327),(.5,.332),(.51,.33),(.52,.333),(.52,.34),(.535,.342),(.55,.345),(.56,.353),(.58,.35),(.59,.356),(.6,.359),(.6,.352),(.62,.355),(.63,.365),(.64,.37),(.645,.375),(.65,.374),(.66,.383),(.67,.39),(.675,.398),(.69,.392),(.7,.402),(.71,.409),(.72,.41),(.735,.407),(.74,.416),(.75,.414),(.76,.42),(.77,.428),(.78,.426),(.785,.44),(.79,.447),(.79,.453),(.795,.458),(.8,.463),(.805,.466),(.81,.477),(.815,.48)]
US_2RW = [(.065,.308),(.08,.311),(.1,.312),(.12,.31),(.14,.308),(.17,.31),(.19,.309),(.21,.313),(.23,.311),(.25,.311),(.27,.309),(.29,.31),(.31,.311),(.33,.313),(.35,.309),(.37,.31),(.38,.314),(.4,.312),(.42,.313),(.44,.313),(.46,.307),(.48,.31),(.5,.308),(.52,.312),(.54,.31),(.56,.309),(.57,.311),(.6,.313),(.62,.312),(.64,.31),(.66,.314),(.67,.317),(.69,.312),(.7,.317),(.72,.32),(.73,.322),(.74,.327),(.76,.32),(.77,.33),(.78,.335),(.79,.342),(.8,.35),(.81,.358),(.81,.37),(.82,.372),(.82,.38),(.825,.385),(.83,.395),(.84,.405),(.85,.41),(.85,.418),(.86,.425),(.865,.435),(.865,.445),(.87,.455),(.87,.465),(.875,.47),(.88,.471)]
US_WCYCLE = [(.03,.311),(.05,.31),(.055,.309),(.06,.313),(.06,.316),(.065,.315),(.1,.318),(.105,.322),(.11,.315),(.11,.325),(.115,.328),(.145,.328),(.17,.327),(.19,.329),(.22,.328),(.24,.329),(.26,.331),(.265,.328),(.295,.326),(.32,.331),(.335,.329),(.36,.327),(.38,.328),(.39,.33),(.4,.333),(.405,.336),(.4,.339),(.41,.34),(.43,.342),(.445,.343),(.45,.34),(.45,.345),(.465,.35),(.49,.347),(.51,.346),(.52,.347),(.54,.349),(.55,.346),(.58,.348),(.59,.35),(.6,.348),(.62,.349),(.63,.35),(.64,.347),(.655,.346),(.665,.344),(.675,.351),(.69,.353),(.7,.35),(.72,.349),(.735,.351),(.745,.35),(.76,.353),(.77,.355),(.785,.356),(.8,.357),(.81,.356),(.82,.356),(.83,.36),(.84,.363),(.85,.362),(.86,.364),(.865,.37),(.88,.37),(.89,.377),(.9,.38),(.905,.384),(.915,.393),(.92,.396),(.93,.398),(.935,.41),(.94,.422),(.93,.412)]

ORDER_A = ["WD", "WH", "WC", "WBC", "2RW", "WCycle"]
ORDER_B = ["WD", "WH", "WBC", "2RW", "WC", "WCycle"]

W, H = 959, 593
L, R, T, B = 61, 15, 20, 80
PW, PH = W - L - R, H - T - B

PANELS = [
    dict(title="Bible", exp=7, order=ORDER_B, box=(61, 319, 20, 233), xr=(-.098, 2.52), yr=(.1945, .3074),
         xt=[0, 1, 2], yt=[.20, .22, .24, .26, .28, .30], yf=".2f", xf="d",
         data=dict(zip(SERIES, [BIBLE_WD, BIBLE_WH, BIBLE_WC, BIBLE_WBC, BIBLE_2RW, BIBLE_WCYCLE]))),
    dict(title="CE-GN", exp=8, order=ORDER_A, box=(365, 623, 20, 233), xr=(-.049, 1.029), yr=(.50714, .58385),
         xt=[0, .25, .5, .75, 1], yt=[.52, .54, .56, .58], yf=".2f", xf=".2f",
         data=dict(zip(SERIES, [CE_WD, CE_WH, CE_WC, CE_WBC, CE_2RW, CE_WCYCLE]))),
    dict(title="Collaboration", exp=7, order=ORDER_B, box=(686, 944, 20, 233), xr=(-.19, 4.17), yr=(.3314, .455),
         xt=[0, 1, 2, 3, 4], yt=[.35, .375, .4, .425, .45], yf=".3f", xf="d",
         data=dict(zip(SERIES, [CO_WD, CO_WH, CO_WC, CO_WBC, CO_2RW, CO_WCYCLE]))),
    dict(title="Moreno_health", exp=6, order=ORDER_A, box=(61, 319, 300, 513), xr=(-.277, 5.84), yr=(.70539, .76726),
         xt=[0, 2, 4], yt=[.72, .74, .76], yf=".2f", xf="d",
         data=dict(zip(SERIES, [MO_WD, MO_WH, MO_WC, MO_WBC, MO_2RW, MO_WCYCLE]))),
    dict(title="Twitter", exp=8, order=ORDER_B, box=(365, 623, 300, 513), xr=(-.079, 1.667), yr=(.1781, .4953),
         xt=[0, .5, 1, 1.5], yt=[.2, .3, .4], yf=".1f", xf=".1f",
         data=dict(zip(SERIES, [TW_WD, TW_WH, TW_WC, TW_WBC, TW_2RW, TW_WCYCLE]))),
    dict(title="USAir", exp=5, order=ORDER_B, box=(686, 944, 300, 513), xr=(-.013, 1.005), yr=(.2957, .4902),
         xt=[0, .25, .5, .75, 1], yt=[.3, .35, .4, .45], yf=".2f", xf=".2f",
         data=dict(zip(SERIES, [US_WD, US_WH, US_WC, US_WBC, US_2RW, US_WCYCLE]))),
]

FONT = "Liberation Sans"
FRAME = "#8A97A0"
fig = go.Figure()
annotations = []

for i, p in enumerate(PANELS, start=1):
    x0, x1, y0, y1 = p["box"]
    xname = "x" if i == 1 else f"x{i}"
    yname = "y" if i == 1 else f"y{i}"
    for s in p["order"]:
        pts = p["data"][s]
        fig.add_trace(go.Scatter(x=[q[0] for q in pts], y=[q[1] for q in pts], mode="markers", name=s,
                                 xaxis=xname, yaxis=yname, showlegend=False, hoverinfo="skip",
                                 marker=dict(size=6.8, color=COLORS[s], line=dict(width=0))))
    common = dict(showgrid=False, zeroline=False, showline=True, mirror=True, linecolor=FRAME, linewidth=1.5,
                  ticks="outside", ticklen=2, tickwidth=1, tickcolor="#555555",
                  tickfont=dict(family=FONT, size=15.5, color="#1a1a1a"), automargin=False)
    xaxis = dict(domain=[(x0 - L) / PW, (x1 - L) / PW], range=list(p["xr"]), anchor=yname, tickmode="array",
                 tickvals=p["xt"], tickformat=p["xf"], ticklabelstandoff=-3, **common)
    yaxis = dict(domain=[(H - B - y1) / PH, (H - B - y0) / PH], range=list(p["yr"]), anchor=xname, tickmode="array",
                 tickvals=p["yt"], tickformat=p["yf"], **common)
    if i > 3:
        xaxis["title"] = dict(text="<i>λ</i>", font=dict(family="DejaVu Sans", size=15, color="#1a1a1a"), standoff=2)
    if i in (1, 4):
        annotations.append(dict(text="<i>R</i>", xref="paper", yref="paper", x=(16 - L) / PW,
                                y=(H - B - (y0 + y1) / 2 + 0.5) / PH, xanchor="center", yanchor="middle",
                                textangle=-90, showarrow=False,
                                font=dict(family="DejaVu Sans", size=15, color="#1a1a1a")))
    fig.update_layout({("xaxis" if i == 1 else f"xaxis{i}"): xaxis, ("yaxis" if i == 1 else f"yaxis{i}"): yaxis})
    annotations.append(dict(text=p["title"], xref="paper", yref="paper", x=(((x0 + x1) / 2) - L) / PW,
                            y=(H - B - (y0 - 10)) / PH, xanchor="center", yanchor="middle", showarrow=False,
                            font=dict(family=FONT, size=15, color="#1a1a1a")))
    annotations.append(dict(text=f"×10<sup>{p['exp']}</sup>", xref="paper", yref="paper", x=(x1 - L) / PW,
                            y=(H - B - (y1 + 32)) / PH, xanchor="right", yanchor="middle", showarrow=False,
                            font=dict(family=FONT, size=16, color="#1a1a1a")))

# Legend: frame plus one native legend per entry, so each entry sits at its own spot.
LEG_CENTERS = [215.7, 312.7, 410, 508, 616.7, 722.7]
legends = {}
for k, (s, cx) in enumerate(zip(SERIES, LEG_CENTERS)):
    key = "legend" if k == 0 else f"legend{k + 1}"
    fig.add_trace(go.Scatter(x=[None], y=[None], mode="markers", name=s, legend=key, showlegend=True,
                             marker=dict(size=15, color=COLORS[s], line=dict(width=0))))
    legends[key] = dict(xref="container", yref="container", x=(cx - 20) / W, y=1 - 575 / H, xanchor="left",
                        yanchor="middle", bgcolor="rgba(0,0,0,0)", borderwidth=0, itemclick=False, itemdoubleclick=False,
                        font=dict(family=FONT, size=16.5, color="#1a1a1a"))
fig.update_layout(**legends)

def px(xp): return (xp - L) / PW
def py(yp): return (H - B - yp) / PH
lx0, lx1, ly0, ly1, rr = 192.5, 807.5, 560, 590.5, 3
path = (f"M {px(lx0 + rr)} {py(ly0)} L {px(lx1 - rr)} {py(ly0)} Q {px(lx1)} {py(ly0)} {px(lx1)} {py(ly0 + rr)} "
        f"L {px(lx1)} {py(ly1 - rr)} Q {px(lx1)} {py(ly1)} {px(lx1 - rr)} {py(ly1)} L {px(lx0 + rr)} {py(ly1)} "
        f"Q {px(lx0)} {py(ly1)} {px(lx0)} {py(ly1 - rr)} L {px(lx0)} {py(ly0 + rr)} Q {px(lx0)} {py(ly0)} {px(lx0 + rr)} {py(ly0)} Z")

fig.update_layout(width=W, height=H, margin=dict(l=L, r=R, t=T, b=B, autoexpand=False), plot_bgcolor="white",
                  paper_bgcolor="white", annotations=annotations, font=dict(family=FONT),
                  shapes=[dict(type="path", path=path, xref="paper", yref="paper", line=dict(color="#E0E0E0", width=1.2),
                               fillcolor="white", layer="below")])
fig.write_html("out.html", config=dict(displayModeBar=False),
               post_script="document.body.style.margin='0';document.body.style.overflow='hidden';")
